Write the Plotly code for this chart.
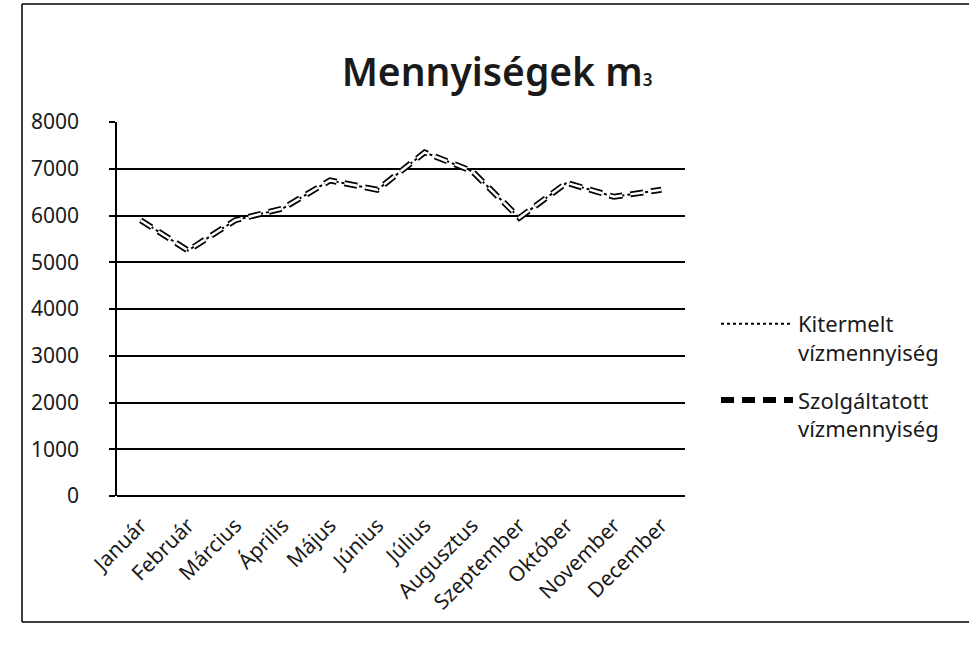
import plotly.graph_objects as go

months = ["Január", "Február", "Március", "Április", "Május", "Június",
          "Július", "Augusztus", "Szeptember", "Október", "November", "December"]
kitermelt = [5900, 5250, 5900, 6150, 6750, 6550, 7350, 6950, 5950, 6700, 6400, 6550]
szolgaltatott = [5900, 5250, 5900, 6150, 6750, 6550, 7350, 6950, 5950, 6700, 6400, 6550]
y_ticks = [0, 1000, 2000, 3000, 4000, 5000, 6000, 7000, 8000]

FONT = "Noto Sans"
TXT = "#1a1a1a"
L, R, T, B = 117, 284, 122, 157
W, H = 969, 653
pw = W - L - R
ph = H - T - B

def px_to_paper_x(px):
    return (px - L) / pw

def px_to_paper_y(py):
    return (H - B - py) / ph

fig = go.Figure()
fig.add_trace(go.Scatter(
    x=months, y=kitermelt, mode="lines",
    name="Kitermelt<br>vízmennyiség", legendgroup="a",
    line=dict(color="black", width=2, dash="dot"),
))
fig.add_trace(go.Scatter(
    x=months, y=szolgaltatott, mode="lines",
    name="Szolgáltatott<br>vízmennyiség", legendgroup="b",
    line=dict(color="black", width=6, dash="13px,8px"),
))
fig.add_trace(go.Scatter(
    x=months, y=szolgaltatott, mode="lines",
    showlegend=False, hoverinfo="skip", legendgroup="b",
    line=dict(color="white", width=2.5, dash="13px,8px"),
))

shapes = [
    dict(type="line", xref="paper", yref="paper",
         x0=px_to_paper_x(22), x1=px_to_paper_x(22),
         y0=px_to_paper_y(4), y1=px_to_paper_y(622),
         line=dict(color="black", width=1.5)),
    dict(type="line", xref="paper", yref="paper",
         x0=px_to_paper_x(22), x1=px_to_paper_x(969),
         y0=px_to_paper_y(4), y1=px_to_paper_y(4),
         line=dict(color="black", width=1.5)),
    dict(type="line", xref="paper", yref="paper",
         x0=px_to_paper_x(22), x1=px_to_paper_x(969),
         y0=px_to_paper_y(622), y1=px_to_paper_y(622),
         line=dict(color="black", width=1.5)),
]

fig.update_layout(
    width=W, height=H,
    margin=dict(l=L, r=R, t=T, b=B),
    paper_bgcolor="white", plot_bgcolor="white",
    font=dict(family=FONT, color=TXT, size=20),
    title=dict(text="Mennyiségek m<span style='font-size:17px'>3</span>",
               x=497 / W, xanchor="center", y=1 - 72 / H, yanchor="middle",
               font=dict(family=FONT, size=39, color=TXT, weight=600)),
    showlegend=True,
    legend=dict(x=px_to_paper_x(716), y=px_to_paper_y(303), xanchor="left", yanchor="top",
                font=dict(family=FONT, size=22, color=TXT), traceorder="grouped",
                bgcolor="rgba(0,0,0,0)", tracegroupgap=16, itemwidth=72, valign="top"),
    shapes=shapes,
)
fig.update_xaxes(
    type="category", range=[-0.5, 11.5], tickangle=-45,
    showgrid=False, showline=False, ticks="",
    ticklabelstandoff=12,
    tickfont=dict(family=FONT, size=21, color=TXT),
)
fig.update_yaxes(
    range=[0, 8000], tickvals=y_ticks, ticktext=[str(v) for v in y_ticks],
    showgrid=True, gridcolor="black", gridwidth=1.5,
    zeroline=True, zerolinecolor="black", zerolinewidth=1.5,
    showline=True, linecolor="black", linewidth=1.5,
    ticks="outside", ticklen=6, tickcolor="black", tickwidth=1.5,
    ticklabelstandoff=26,
    tickfont=dict(family=FONT, size=21, color=TXT),
)

fig.write_html("out.html", config={"displayModeBar": False},
               post_script="document.body.style.margin='0';")
